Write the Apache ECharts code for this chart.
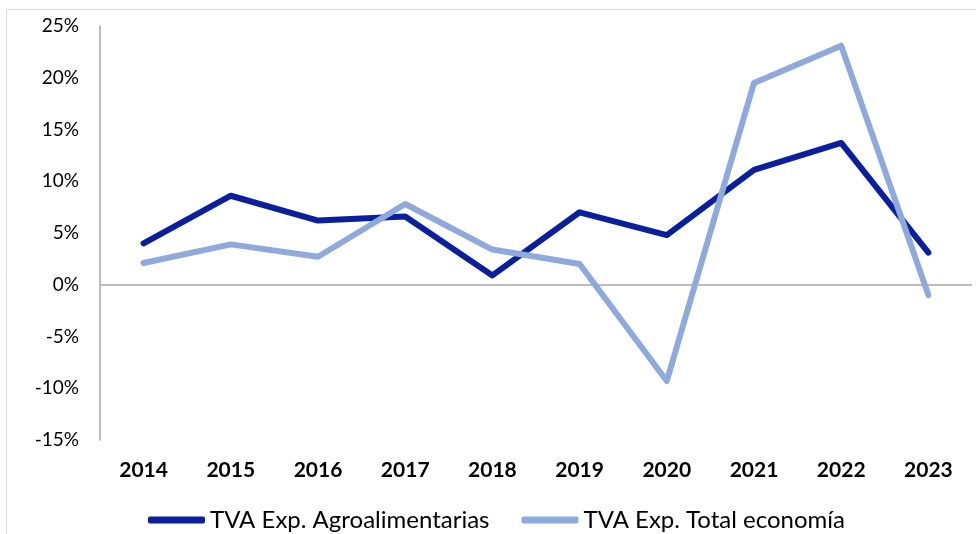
<!DOCTYPE html>
<html>
<head>
<meta charset="utf-8">
<script src="https://cdn.jsdelivr.net/npm/echarts@6/dist/echarts.min.js"></script>
<style>
  html, body { margin: 0; padding: 0; background: #fff; }
  #chart { width: 976px; height: 534px; }
</style>
</head>
<body>
<div id="chart"></div>
<script>
const years = ['2014', '2015', '2016', '2017', '2018', '2019', '2020', '2021', '2022', '2023']
const agroName = 'TVA Exp. Agroalimentarias'
const totalName = 'TVA Exp. Total economía'
const agroValues = [4.0, 8.6, 6.2, 6.6, 0.9, 7.0, 4.8, 11.1, 13.7, 3.1]
const totalValues = [2.1, 3.9, 2.7, 7.8, 3.4, 2.0, -9.3, 19.5, 23.1, -1.0]

const FONT = 'Lato, "Open Sans", sans-serif'

const chart = echarts.init(document.getElementById('chart'))

chart.setOption({
  backgroundColor: '#fff',
  animation: false,
  textStyle: { fontFamily: FONT },
  graphic: [
    {
      type: 'rect',
      shape: { x: 6.5, y: 9.5, width: 980, height: 540 },
      style: { fill: 'none', stroke: '#d9d9d9', lineWidth: 1 },
      silent: true,
    },
  ],
  grid: { left: 100, right: 4, top: 26, bottom: 94 },
  legend: {
    top: 503,
    left: 143,
    itemWidth: 57,
    itemHeight: 7,
    itemGap: 32,
    icon: 'roundRect',
    textStyle: { fontFamily: FONT, fontSize: 24, color: '#000' },
    data: [agroName, totalName],
  },
  xAxis: {
    type: 'category',
    data: years,
    boundaryGap: true,
    axisLine: { show: false, onZero: false },
    axisTick: { show: false },
    axisLabel: { fontFamily: FONT, fontSize: 21, fontWeight: 'bold', color: '#000', margin: 20 },
  },
  yAxis: {
    type: 'value',
    min: -15,
    max: 25,
    interval: 5,
    axisLine: { show: true, lineStyle: { color: '#a6a6a6', width: 1.5 } },
    axisTick: { show: false },
    splitLine: { show: false },
    axisLabel: { fontFamily: FONT, fontSize: 19, color: '#000', margin: 21, formatter: '{value}%' },
  },
  series: [
    {
      name: agroName,
      type: 'line',
      data: agroValues,
      symbol: 'none',
      lineStyle: { color: '#0a1f9e', width: 6, cap: 'round', join: 'round' },
      itemStyle: { color: '#0a1f9e' },
      markLine: {
        silent: true,
        symbol: 'none',
        label: { show: false },
        lineStyle: { color: '#a6a6a6', width: 1.5, type: 'solid' },
        data: [{ yAxis: 0 }],
        z: 1,
      },
      z: 3,
    },
    {
      name: totalName,
      type: 'line',
      data: totalValues,
      symbol: 'none',
      lineStyle: { color: '#8eaadc', width: 6, cap: 'round', join: 'round' },
      itemStyle: { color: '#8eaadc' },
      z: 4,
    },
  ],
})
</script>
</body>
</html>
